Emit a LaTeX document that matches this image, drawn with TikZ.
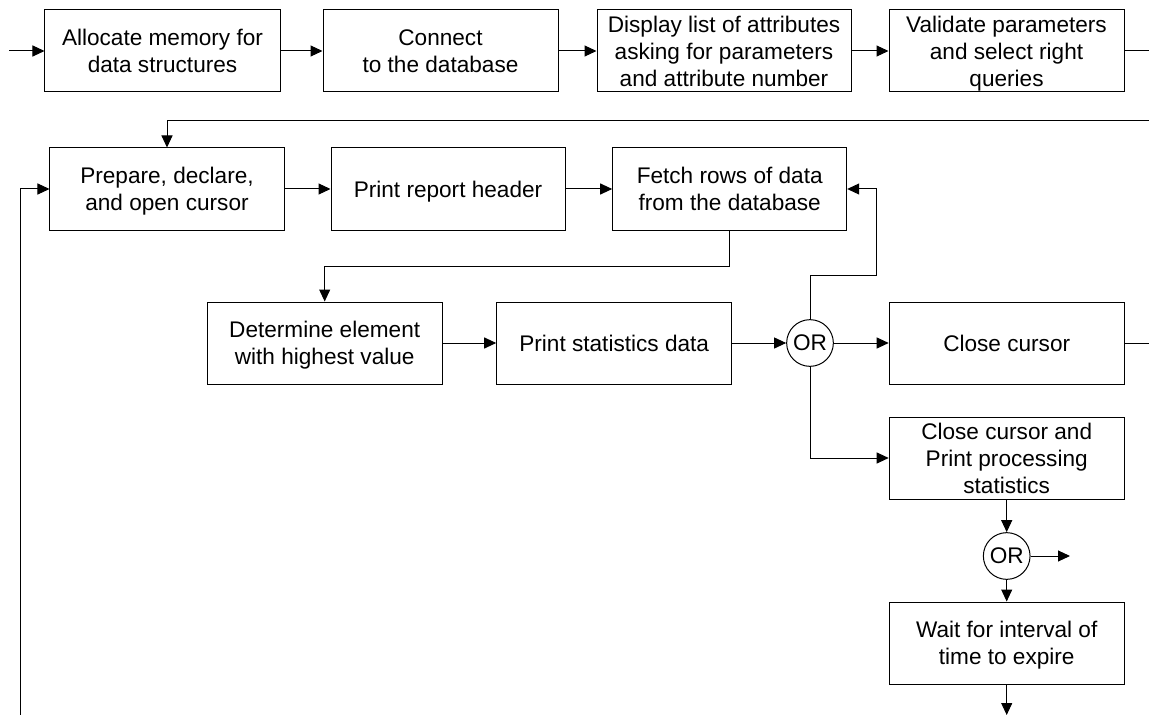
\documentclass[tikz,border=0pt]{standalone}
\usepackage{fontspec}
\setmainfont{Liberation Sans}
\usetikzlibrary{arrows.meta}
\begin{document}
\begin{tikzpicture}[x=1bp, y=-1bp,
  every path/.style={line width=1bp},
  stepbox/.style={draw, rectangle, inner sep=0pt, minimum width=235bp, minimum height=82bp,
    align=center, text depth=0pt, font=\fontsize{22.6bp}{27bp}\selectfont},
  orgate/.style={draw, circle, inner sep=0pt, minimum size=46.7bp, text depth=0pt,
    font=\fontsize{22.6bp}{27bp}\selectfont},
  arr/.style={-{Triangle[length=12bp,width=11bp]}}]
\useasboundingbox (0,0) rectangle (1149,715);

% top row
\node[stepbox] (b1) at (162.5,51) {Allocate memory for\\data structures};
\node[stepbox] (b2) at (440.5,51) {Connect\\to the database};
\node[stepbox, minimum width=254bp] (b3) at (724,51) {Display list of attributes\\asking for parameters\\and attribute number};
\node[stepbox] (b4) at (1006.5,51) {Validate parameters\\and select right\\queries};

% second row
\node[stepbox, minimum width=234bp] (b5) at (167,189) {Prepare, declare,\\and open cursor};
\node[stepbox, minimum width=234bp] (b6) at (448,189) {Print report header};
\node[stepbox, minimum width=234bp] (b7) at (729.7,189) {Fetch rows of data\\from the database};

% third row
\node[stepbox] (b8) at (324.7,343) {Determine element\\with highest value};
\node[stepbox] (b9) at (614.2,343) {Print statistics data};
\node[orgate] (or1) at (810,343) {OR};
\node[stepbox] (b10) at (1006.7,343) {Close cursor};

% right column
\node[stepbox] (b11) at (1006.7,458) {Close cursor and\\Print processing\\statistics};
\node[orgate] (or2) at (1006.7,556) {OR};
\node[stepbox] (b12) at (1006.7,643) {Wait for interval of\\time to expire};

% free ends and bends
\coordinate (in1) at (9,51);
\coordinate (out1) at (1149,51);
\coordinate (ret1) at (1149,120.7);
\coordinate (loop1) at (20.7,715);
\coordinate (k1) at (729.7,266);
\coordinate (k2) at (876,275);
\coordinate (out2) at (1149,343);
\coordinate (out3) at (1070,556);
\coordinate (out4) at (1006.7,715);

% connectors
\draw[arr] (in1) -- (b1);
\draw[arr] (b1) -- (b2);
\draw[arr] (b2) -- (b3);
\draw[arr] (b3) -- (b4);
\draw (b4) -- (out1);
\draw[arr] (ret1) -| (b5);
\draw[arr] (loop1) |- (b5);
\draw[arr] (b5) -- (b6);
\draw[arr] (b6) -- (b7);
\draw[arr] (b7.south) -- (k1) -| (b8);
\draw[arr] (b8) -- (b9);
\draw[arr] (b9) -- (or1);
\draw[arr] (or1) -- (b10);
\draw (b10) -- (out2);
\draw[arr] (or1) |- (k2) |- (b7);
\draw[arr] (or1) |- (b11);
\draw[arr] (b11) -- (or2);
\draw[arr] (or2) -- (b12);
\draw[arr] (or2) -- (out3);
\draw[arr] (b12) -- (out4);
\end{tikzpicture}
\end{document}
